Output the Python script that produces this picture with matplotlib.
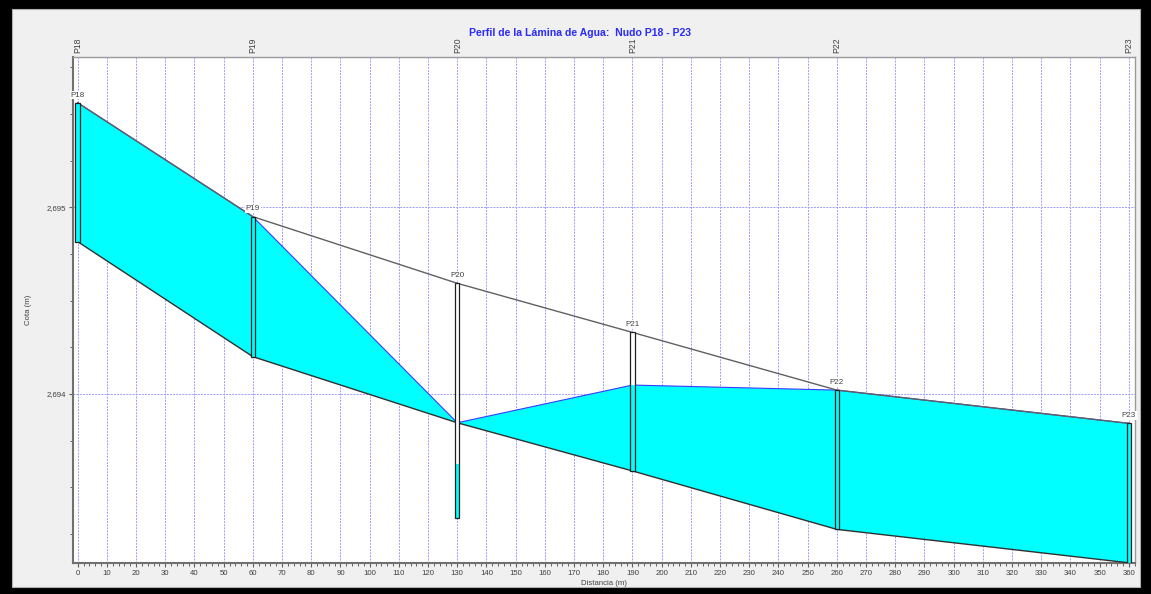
import matplotlib
matplotlib.use("Agg")
import matplotlib.pyplot as plt
from matplotlib.patches import Rectangle
from matplotlib.ticker import MultipleLocator, FuncFormatter

plt.rcParams['font.family'] = ['Liberation Sans', 'DejaVu Sans']

# Profile data (distance along the sewer, elevations in m)
nodes = ["P18", "P19", "P20", "P21", "P22", "P23"]
distance = [0, 60, 130, 190, 260, 360]
ground = [2695.560, 2694.950, 2694.593, 2694.330, 2694.021, 2693.843]
invert = [2694.816, 2694.200, 2693.846, 2693.588, 2693.275, 2693.096]
water = [2695.560, 2694.950, 2693.846, 2694.048, 2694.021, 2693.843]
manhole_bottom = [2694.816, 2694.200, 2693.334, 2693.588, 2693.275, 2693.096]
manhole_water = [2695.560, 2694.950, 2693.625, 2694.048, 2694.021, 2693.843]

title = "Perfil de la Lámina de Agua:  Nudo P18 - P23"

W, H = 1151, 594
fig = plt.figure(figsize=(W / 100, H / 100), dpi=100)
fig.patch.set_facecolor('black')
fig.add_artist(Rectangle((12 / W, (H - 586.5) / H), (1140 - 12) / W, (586.5 - 8.5) / H,
                         transform=fig.transFigure, facecolor='#f0f0f0',
                         edgecolor='#b0b0b0', lw=0.8, zorder=0))

ax = fig.add_axes([72.7 / W, 1 - 563 / H, (1134.7 - 72.7) / W, (563 - 57) / H])
ax.set_facecolor('white')
ax.set_xlim(-1.7, 362.0)
ax.set_ylim(2693.095, 2695.805)

# grid
ax.xaxis.set_major_locator(MultipleLocator(10))
ax.xaxis.set_minor_locator(MultipleLocator(2))
ax.yaxis.set_major_locator(MultipleLocator(1))
ax.yaxis.set_minor_locator(MultipleLocator(0.25))
ax.yaxis.set_major_formatter(FuncFormatter(lambda v, p: f"{v:,.0f}"))
ax.set_axisbelow(True)
ax.grid(which='major', color='#9c9cff', lw=0.7, ls=(0, (2, 1.2)))

# water between pipe invert and water surface
for i in range(len(distance) - 1):
    xs = [distance[i], distance[i + 1]]
    ax.fill_between(xs, [invert[i], invert[i + 1]], [water[i], water[i + 1]],
                    facecolor='#00ffff', edgecolor='none', zorder=2)
ax.plot(distance, water, color='#3a3aff', lw=0.8, zorder=3)
ax.plot(distance, ground, color='#606060', lw=1.0, zorder=4)
ax.plot(distance, invert, color='#303030', lw=1.0, zorder=4)

# manholes
hw = 0.75
for d, g, b, wl, name in zip(distance, ground, manhole_bottom, manhole_water, nodes):
    ax.add_patch(Rectangle((d - hw, b), 2 * hw, g - b, facecolor='white',
                           edgecolor='none', zorder=5))
    ax.add_patch(Rectangle((d - hw, b), 2 * hw, wl - b, facecolor='#00ffff',
                           edgecolor='none', zorder=6))
    ax.add_patch(Rectangle((d - hw, b), 2 * hw, g - b, facecolor='none',
                           edgecolor='#202020', lw=0.9, zorder=7))
    ax.annotate(name, (d, g), xytext=(0, 3), textcoords='offset points',
                ha='center', va='bottom', fontsize=5.8, color='#404040', zorder=8,
                bbox=dict(facecolor='white', edgecolor='none', pad=0.6))

# axis styling
for side in ('left', 'bottom'):
    ax.spines[side].set_color('#707070')
    ax.spines[side].set_linewidth(1.5)
for side in ('top', 'right'):
    ax.spines[side].set_color('#9a9a9a')
    ax.spines[side].set_linewidth(1.0)
ax.tick_params(which='major', length=3, width=0.8, color='#606060',
               labelsize=5.6, labelcolor='#404040', pad=2)
ax.tick_params(which='minor', length=2, width=0.7, color='#606060')

ax.set_xlabel("Distancia (m)", fontsize=5.6, color='#404040')
ax.set_ylabel("Cota (m)", fontsize=5.6, color='#404040')
ax.xaxis.set_label_coords(0.5, -0.034)
ax.yaxis.set_label_coords(-0.0386, 0.5)

# node names along the top
top = ax.secondary_xaxis('top')
top.set_xticks(distance)
top.set_xticklabels(nodes, rotation=90, fontsize=6.2, color='#404040')
top.tick_params(length=0, pad=3)
top.spines['top'].set_visible(False)

fig.text(580 / W, 1 - 32.5 / H, title, ha='center', va='center',
         fontsize=7.6, fontweight='bold', color='#2b2bff')

fig.savefig("out.png", dpi=100, facecolor=fig.get_facecolor())
